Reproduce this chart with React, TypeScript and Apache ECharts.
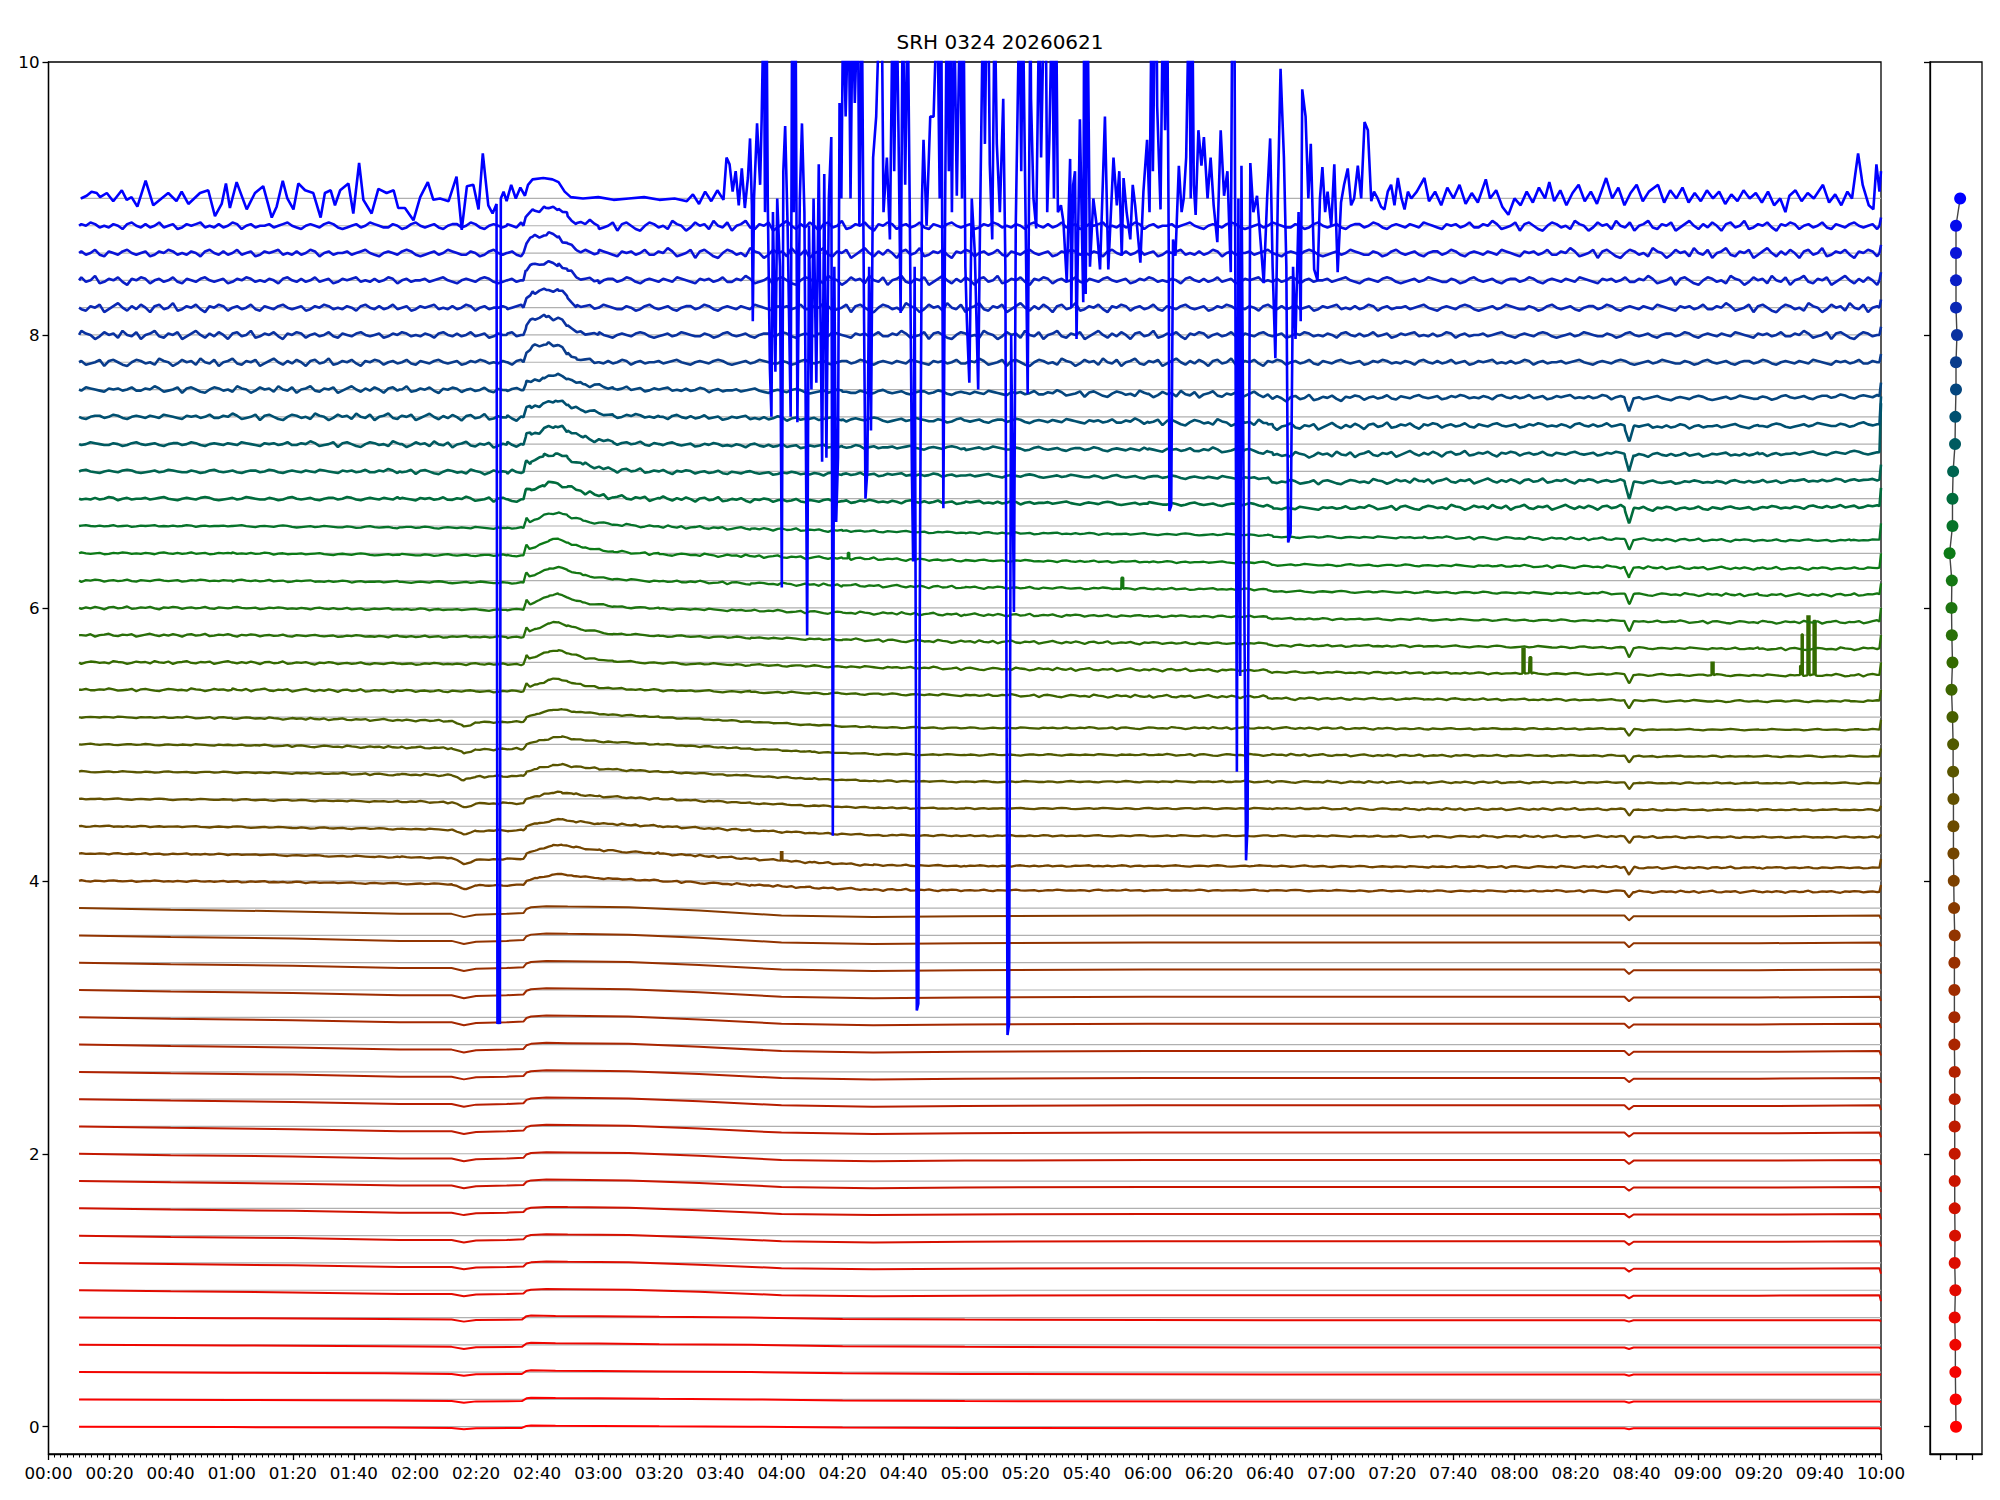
import React, { useEffect, useRef } from "react";
import * as echarts from "echarts";

const TITLE = "SRH 0324 20260621";
const FONT = "DejaVu Sans";
const Y_TICKS = [0, 2, 4, 6, 8, 10];
const PANEL_X_TICKS = [-0.5, 0, 0.5];
const BASELINES = Array.from({ length: 46 }, (_, i) => Math.round(i * 2) / 10);

// ---- top trace (9.0): time (min) / value
const TOP_T = [
  10.6, 12.5, 14.1, 15.8, 16.9, 19.1, 21.2, 24.0, 25.6, 27.2, 29.1, 31.8, 34.3, 37.0, 39.2, 41.9, 43.6, 45.8, 49.6, 52.3,
  54.5, 56.7, 58.1, 59.4, 61.6, 64.9, 67.6, 70.3, 73.1, 74.7, 76.7, 78.2, 80.2, 81.8, 84.0, 86.7, 89.1, 90.5, 92.4, 93.8,
  95.5, 98.2, 99.8, 101.7, 103.1, 105.8, 108.0, 110.7, 113.0, 114.5, 116.7, 119.5, 121.7, 124.2, 126.0, 128.2, 131.0, 133.6, 135.3, 137.0,
  139.1, 140.8, 142.2, 144.0, 145.4, 146.7, 147.0, 147.4, 147.8, 148.1, 149, 150, 151.5, 153, 154.5, 156, 157, 158.5, 162, 165,
  167, 169, 171, 175, 180, 185, 190, 195, 200, 205, 209, 211, 213, 215, 217, 219, 221,
  222, 223, 224, 225, 226, 227, 228, 229, 229.7, 230.3, 230.6, 231, 232, 233, 233.5, 234.2, 234.6, 235.1, 235.5, 236.2,
  236.7, 237.2, 238, 238.6, 239.5, 240.1, 240.6, 241.2, 242, 243, 243.5, 244, 244.6, 245.2, 246, 246.7, 247.5, 248.4, 249, 249.8,
  250.5, 251.4, 252.2, 253.3, 254, 254.7, 255.5, 256.3, 256.8, 257.3, 257.9, 258.5, 259, 259.6, 260.2, 261, 262, 262.6, 263.3, 264,
  265, 265.5, 266.3, 267, 267.5, 268.1, 268.7, 269.3, 270, 271, 272.2, 272.8, 273.4, 274.5, 275.5, 276.4, 276.9, 277.7, 278.3, 279,
  279.7, 280.5, 281.3, 282, 282.7, 283.1, 283.6, 284.3, 284.8, 285.4, 286, 286.5, 287.5, 288.7, 289.8, 291, 291.8, 292.3, 293, 293.6,
  294.1, 294.8, 295.2, 295.8, 296.5, 297.4, 298.5, 299.1, 299.6, 300.2, 300.7, 301.5, 302.3, 303.3, 304.4, 305, 306, 306.6, 307.2, 307.7,
  308.2, 309, 309.8, 310.5, 311.5, 312.6, 313.3, 314, 314.5, 315.2, 316.1, 316.7, 317.9, 318.5, 319, 320, 320.6, 321.5, 321.7, 322.5,
  323.4, 324.4, 325, 326, 326.5, 327, 327.7, 328.6, 329.2, 329.9, 330.5, 331.5, 332.3, 333.4, 334.5, 334.9, 335.5, 336.1, 336.6, 337.7,
  338.8, 339.1, 339.6, 340.2, 341, 342.1, 343.2, 344.3, 345.9, 347, 348.7, 349.8, 350.6, 351.4, 352, 353, 354.2, 355, 355.8, 357.5,
  358.5, 359.7, 360.5, 361.2, 361.6, 362.3, 362.8, 363, 364.1, 364.9, 365.6, 366.3, 366.8, 367.0, 367.6, 368.2, 369, 370.1, 371, 371.7,
  372.5, 373.4, 374, 374.5, 375, 375.6, 376.5, 377.5, 378.3, 379.5, 380.5, 381.5, 382.7, 383.8, 384.9, 386, 387.1, 387.6, 388.3, 388.8,
  389.1, 389.6, 390.2, 390.6, 391.4, 392.1, 392.6, 393.5, 394.5, 395.7, 396.8, 397.9, 399, 400, 400.8, 401.7, 402.5, 403.4, 404.5, 405.3,
  405.9, 406.7, 407.5, 408.3, 409.3, 410.0, 410.5, 411.6, 412.5, 413.3, 414.4, 415.5, 416.3, 417.1, 418, 418.8, 420, 421, 422.1, 423.2,
  424.2, 425.4, 426.5, 427.5, 428.7, 429.8, 430.9, 432, 433.1, 434, 435.2, 436.3, 437.4, 438.5, 439.6, 440.7, 441.8, 443, 444, 445.1,
  446.2, 448, 450.5, 452, 454, 456, 458, 460, 462, 464, 466, 468, 470.6, 472, 474, 476, 478, 480, 482, 484,
  486, 488, 490, 491.4, 493, 495, 497, 499, 501, 503, 505, 507, 510, 512, 514, 516, 518, 520, 522, 524,
  527, 529, 531, 533, 535, 537, 539, 541, 543, 545, 547, 549, 551, 553, 555, 557, 559, 561, 563, 565,
  567, 568.7, 570, 572, 574, 576, 578, 581, 583, 585, 587, 589, 590.5, 592.5, 594, 596, 597.5, 598.5, 599.5, 600,
];
const TOP_V = [
  9.0, 9.02, 9.05, 9.04, 9.01, 9.04, 8.98, 9.06, 8.99, 9.01, 8.94, 9.13, 8.95, 9.0, 9.04, 8.98, 9.05, 8.96, 9.04, 9.06,
  8.87, 8.96, 9.11, 8.93, 9.12, 8.92, 9.04, 9.09, 8.86, 8.94, 9.13, 9.0, 8.92, 9.11, 9.06, 9.04, 8.86, 9.04, 9.06, 8.95,
  9.06, 9.11, 8.89, 9.26, 8.99, 8.89, 9.07, 9.04, 9.06, 8.93, 8.93, 8.84, 9.01, 9.12, 8.99, 9.0, 8.98, 9.16, 8.77, 9.09,
  9.1, 8.92, 9.33, 8.95, 8.89, 8.96, 2.95, 3.0, 2.95, 9.0, 9.05, 8.98, 9.1, 9.0, 9.08, 9.02, 9.1, 9.14, 9.15, 9.14,
  9.12, 9.05, 9.01, 9.0, 9.01, 8.99, 9.0, 9.01, 8.99, 9.0, 8.98, 9.03, 8.96, 9.05, 8.98, 9.06, 8.99,
  9.3, 9.25, 9.05, 9.2, 8.95, 9.22, 8.93, 9.15, 9.44, 8.95, 8.1, 9.0, 9.55, 9.1, 9.58, 10.5, 8.9, 10.5, 9.0, 7.75,
  7.4, 8.9, 7.73, 9.0, 8.5, 6.15, 9.2, 9.53, 8.8, 7.4, 10.5, 8.9, 10.5, 7.36, 9.0, 9.55, 8.9, 5.8, 8.8, 7.6,
  9.0, 7.65, 9.25, 7.07, 9.18, 7.1, 9.0, 9.45, 4.33, 8.5, 6.63, 7.1, 9.7, 9.0, 10.5, 9.6, 10.5, 9.0, 10.5, 9.7,
  10.5, 8.8, 10.5, 8.2, 6.8, 7.0, 8.5, 7.3, 9.3, 9.6, 10.5, 10.5, 8.9, 9.3, 8.7, 10.5, 9.2, 10.5, 9.5, 8.16,
  10.5, 9.1, 10.5, 8.9, 7.0, 6.34, 8.5, 3.05, 3.1, 6.68, 9.0, 9.43, 8.8, 9.6, 9.6, 10.5, 9.0, 10.5, 6.73, 9.0,
  10.5, 9.2, 10.5, 8.9, 10.5, 9.02, 10.5, 9.0, 10.5, 8.5, 8.1, 7.65, 9.0, 8.6, 7.6, 8.8, 10.5, 9.4, 10.5, 10.5,
  9.25, 8.7, 10.5, 9.4, 8.9, 9.73, 8.5, 2.87, 2.95, 8.0, 5.97, 8.8, 10.5, 9.2, 10.5, 8.7, 7.57, 10.5, 9.73, 9.0,
  8.78, 10.5, 9.3, 10.5, 10.5, 8.9, 9.43, 10.5, 9.0, 10.5, 8.9, 8.95, 8.83, 8.39, 9.29, 8.2, 9.1, 9.2, 7.97, 9.58,
  8.24, 10.5, 8.3, 10.5, 8.5, 9.0, 8.8, 8.48, 9.6, 8.48, 9.3, 8.95, 9.2, 8.58, 9.15, 8.9, 8.7, 9.1, 8.95, 8.53,
  9.05, 9.43, 8.9, 10.5, 9.2, 10.5, 10.5, 9.68, 8.92, 10.5, 9.5, 10.5, 8.6, 6.71, 6.75, 8.7, 8.58, 9.24, 8.9, 9.0,
  9.3, 10.5, 9.0, 10.5, 9.1, 8.88, 9.5, 9.24, 9.45, 9.0, 9.3, 8.95, 8.68, 9.5, 9.02, 9.2, 8.46, 10.5, 10.5, 7.0,
  4.8, 9.0, 5.5, 9.24, 6.5, 4.15, 4.4, 9.26, 8.9, 9.02, 8.7, 8.38, 9.0, 9.44, 8.5, 7.83, 9.0, 9.95, 9.3, 8.5,
  6.48, 6.55, 8.5, 7.97, 8.9, 8.1, 9.8, 9.6, 9.0, 9.4, 8.48, 8.4, 9.0, 9.23, 8.9, 9.05, 8.8, 9.25, 8.46, 8.97,
  9.1, 9.22, 8.95, 9.0, 9.24, 9.0, 9.56, 9.5, 8.98, 9.05, 9.0, 8.94, 8.92, 9.05, 9.1, 8.95, 9.15, 9.0, 8.92, 9.05,
  9.0, 9.05, 9.15, 8.98, 9.05, 8.95, 9.08, 9.0, 9.1, 8.96, 9.04, 8.97, 9.14, 9.0, 9.06, 8.94, 8.88, 9.0, 8.95, 9.05,
  8.97, 9.08, 9.0, 9.12, 8.98, 9.06, 8.95, 9.04, 9.1, 8.98, 9.05, 8.96, 9.15, 9.0, 9.08, 8.95, 9.04, 9.1, 8.98, 9.05,
  9.1, 8.97, 9.06, 9.0, 9.08, 8.97, 9.04, 8.98, 9.06, 9.0, 9.05, 8.96, 9.03, 8.98, 9.06, 9.0, 9.04, 8.97, 9.05, 8.95,
  9.0, 8.9, 9.02, 9.06, 8.98, 9.04, 9.0, 9.1, 8.97, 9.03, 8.95, 9.05, 9.0, 9.33, 9.1, 8.95, 8.92, 9.25, 9.05, 9.2,
];

// ---- shape profiles (deviation from baseline)
const PA_T = [10, 60, 110, 132, 136, 140, 155, 156.5, 158, 166, 180, 200, 230, 260, 300, 400, 516, 517.5, 519, 599.5];
const PA_V = [0, -0.005, -0.01, -0.015, -0.03, -0.018, -0.015, 0.01, 0.015, 0.012, 0.01, 0.005, 0, -0.01, -0.015, -0.02, -0.02, -0.03, -0.02, -0.02];
const PB_T = [10, 40, 80, 115, 132, 136, 140, 150, 155.5, 156.5, 158, 163, 170, 190, 213, 240, 270, 300, 360, 400, 450, 516, 517.5, 519, 560, 599.5];
const PB_V = [0, -0.01, -0.02, -0.035, -0.035, -0.055, -0.04, -0.035, -0.03, -0.005, 0.005, 0.012, 0.01, 0.005, -0.015, -0.045, -0.055, -0.05, -0.045, -0.045, -0.045, -0.045, -0.075, -0.05, -0.05, -0.045];
const PC_T = [10, 60, 115, 132, 136, 140, 155.5, 156.5, 160, 165, 168, 172, 180, 200, 230, 250, 270, 300, 400, 450, 516, 517.5, 519, 560, 599.5];
const PC_V = [0, -0.005, -0.02, -0.025, -0.06, -0.035, -0.03, 0.0, 0.02, 0.045, 0.05, 0.035, 0.02, 0.0, -0.03, -0.05, -0.065, -0.07, -0.07, -0.075, -0.075, -0.12, -0.08, -0.08, -0.08];
const PD_T = [10, 60, 115, 150, 155.5, 156.5, 157.5, 160, 164, 167, 170, 175, 185, 200, 230, 260, 300, 360, 399, 401, 450, 516, 517.5, 519, 560, 590, 599.5];
const PD_V = [0, 0, -0.01, -0.015, -0.015, 0.06, 0.03, 0.05, 0.09, 0.1, 0.075, 0.04, 0.01, -0.005, -0.02, -0.035, -0.05, -0.06, -0.065, -0.08, -0.085, -0.095, -0.17, -0.1, -0.105, -0.105, -0.1];
const PE_T = [10, 115, 150, 155.5, 156.5, 158, 162, 166, 170, 175, 185, 200, 260, 300, 360, 399, 401, 450, 516, 517.5, 519, 560, 599.5];
const PE_V = [0, 0, -0.005, -0.005, 0.08, 0.07, 0.11, 0.13, 0.1, 0.05, 0.01, 0, -0.02, -0.03, -0.04, -0.05, -0.08, -0.07, -0.07, -0.2, -0.08, -0.075, -0.06];
const PF_T = [10, 150, 155.5, 156.5, 158.5, 163, 167, 170, 173, 180, 599.5];
const PF_V = [0, 0, 0, 0.07, 0.12, 0.13, 0.125, 0.07, 0.02, 0, 0];

// per trace (0.0 ... 8.8): which profile, its size, wiggle size, value at 10:00
const PROFILE_OF = [0, 0, 0, 0, 0, 1, 1, 1, 1, 1, 1, 1, 1, 1, 1, 1, 1, 1, 1, 1, 2, 2, 2, 2, 2, 2, 2, 3, 3, 3, 3, 3, 3, 3, 4, 4, 4, 4, 4, 5, 5, 5, 5, 5, 5];
const AMP = [0.6, 0.8, 0.9, 1, 1, 0.8, 0.85, 0.9, 0.9, 0.95, 1, 1, 1, 1, 1.05, 1.05, 1.1, 1.1, 1.15, 1.2, 1, 1.3, 1, 1, 1.05, 1.1, 1.15, 0.8, 0.9, 0.95, 1, 1, 1.05, 1, 0.9, 1, 1, 0.9, 0.8, 1, 1, 1, 1, 1, 1];
const WIG = [0, 0, 0, 0, 0, 0, 0, 0, 0, 0, 0, 0, 0, 0, 0, 0, 0, 0, 0, 0, 0.25, 0.25, 0.25, 0.25, 0.25, 0.25, 0.25, 0.35, 0.35, 0.35, 0.35, 0.35, 0.35, 0.35, 0.6, 0.6, 0.7, 0.8, 0.8, 0.9, 1.0, 1.1, 1.1, 1.2, 1.2];
const END_DEV = [-0.02, -0.02, -0.02, -0.03, -0.03, -0.08, -0.08, -0.08, -0.08, -0.08, -0.08, -0.08, -0.08, -0.08, -0.08, -0.08, -0.08, -0.08, -0.08, -0.08, -0.03, -0.04, -0.06, -0.05, -0.04, -0.03, -0.02, 0, 0, 0, 0, -0.02, 0, 0.02, 0.08, 0.05, 0.3, 0.15, 0.05, 0.06, 0.06, 0.06, 0.06, 0.06, 0.06];

// small wiggle (units of 0.01)
const WIGGLE = [
  0, 1, -1, 0, 1, 2, 0, -1, -2, 0, 1, 0, -1, 1, 2, 1, -1, -2, -1, 0,
  1, -1, 0, 2, 1, 0, -1, -1, 1, 0, -2, -1, 1, 2, 0, -1, 0, 1, -1, -2,
  0, 1, 1, -1, 0, 2, 1, -1, -2, 0, 1, 0, -1, 1, 0, -1, 2, 1, 0, -1,
  -2, 1, 0, 1, -1, 0, 2, -1, -1, 1, 0, 3, 1, -2, -1, 0, 2, -3, 1, 2,
  0, -2, -3, 0, 2, 1, -1, 0, -2, 3, 1, 0, -3, -1, 2, 0, 1, -2, 3, 0,
  -1, 2, -3, 0, 1, 3, -1, -2, 1, 0, 2, -3, -1, 1, 3, 0, -2, 1, -1, 2,
  0, -3, 1, 2, -1, 0, 3, -2, -1, 1, 0, 2, -1, -3, 1, 0, 2, 1, -2, 0,
  1, -1, 0, 2, -1, -2, 1, 0, -1, 1, 2, 0, -1, 0, 1, -2, -1, 1, 0, 2,
  1, -1, 0, -1, 1, 0, -2, 1, 2, 0, -1, 1, -1, 0, 2, -1, 0, 1, -2, -1,
  1, 0, 1, 2, -1, 0, -1, 1, -1, 0, 2, 1, -2, 0, 1, -1, 0,
];
const WIGGLE_STEP = 1.5;

// short rectangular pulses: trace index, start, end (min), height
const PULSE_TRACE = [28, 28, 28, 28, 28, 28, 28, 21, 31, 32];
const PULSE_T0 = [482.6, 484.9, 544.5, 573.5, 574.0, 575.9, 577.9, 239.8, 351.3, 261.7];
const PULSE_T1 = [483.3, 485.5, 545.2, 574.0, 574.4, 576.6, 578.6, 240.3, 351.9, 262.2];
const PULSE_H = [0.19, 0.12, 0.1, 0.07, 0.3, 0.44, 0.4, 0.07, 0.08, 0.04];

// right panel dot horizontal positions (0.0 ... 9.0)
const DOT_X = [
  0, -0.01, -0.02, -0.02, -0.04, -0.02, -0.04, -0.03, -0.04, -0.04, -0.04, -0.04, -0.04, -0.04, -0.05, -0.05, -0.05, -0.05, -0.04, -0.06,
  -0.07, -0.08, -0.08, -0.08, -0.09, -0.09, -0.11, -0.14, -0.11, -0.13, -0.14, -0.13, -0.2, -0.11, -0.11, -0.09, -0.03, -0.02, 0, 0,
  0.03, 0, 0, 0, 0, 0.13,
];

// colour anchors (style)
const COLOR_ANCHORS: [number, string][] = [
  [0, "#ff0000"], [1, "#e20a00"], [2, "#c41800"], [3, "#a42800"], [3.6, "#923400"], [4, "#7c4000"],
  [4.6, "#625000"], [5, "#505a00"], [5.6, "#346a00"], [6, "#1e7410"], [6.4, "#0c7a16"], [6.8, "#006c3c"],
  [7.0, "#006450"], [7.4, "#005070"], [7.8, "#0a3c8c"], [8.2, "#0a28b4"], [8.6, "#0a14d8"], [9, "#0000ff"],
];

const PROFILES: [number[], number[]][] = [[PA_T, PA_V], [PB_T, PB_V], [PC_T, PC_V], [PD_T, PD_V], [PE_T, PE_V], [PF_T, PF_V]];

function hexToRgb(h: string) {
  return [parseInt(h.slice(1, 3), 16), parseInt(h.slice(3, 5), 16), parseInt(h.slice(5, 7), 16)];
}
function colorAt(v: number) {
  for (let k = 0; k < COLOR_ANCHORS.length - 1; k++) {
    const [v0, c0] = COLOR_ANCHORS[k];
    const [v1, c1] = COLOR_ANCHORS[k + 1];
    if (v >= v0 - 1e-9 && v <= v1 + 1e-9) {
      const f = (v - v0) / (v1 - v0);
      const a = hexToRgb(c0), b = hexToRgb(c1);
      const m = a.map((x, j) => Math.round(x + (b[j] - x) * f));
      return "#" + m.map((x) => x.toString(16).padStart(2, "0")).join("");
    }
  }
  return "#0000ff";
}
function lerp(T: number[], V: number[], t: number) {
  if (t <= T[0]) return V[0];
  for (let k = 0; k < T.length - 1; k++) {
    if (t >= T[k] && t <= T[k + 1]) return V[k] + ((V[k + 1] - V[k]) * (t - T[k])) / (T[k + 1] - T[k]);
  }
  return V[V.length - 1];
}
const fmtTime = (v: number) =>
  `${String(Math.floor(v / 60)).padStart(2, "0")}:${String(Math.round(v % 60)).padStart(2, "0")}`;

function buildTrace(i: number) {
  const b = BASELINES[i];
  const [PT, PV] = PROFILES[PROFILE_OF[i]];
  const amp = AMP[i];
  const pts: [number, number][] = [];
  const add = (t: number, extra: number) => pts.push([t, b + amp * lerp(PT, PV, t) + extra]);
  PT.forEach((t) => add(t, 0));
  if (WIG[i] > 0) {
    const off = (i * 17) % WIGGLE.length;
    for (let k = 0; ; k++) {
      const t = 10.75 + WIGGLE_STEP * k;
      if (t >= 599) break;
      add(t, WIG[i] * 0.01 * WIGGLE[(k + off) % WIGGLE.length]);
    }
  }
  PULSE_TRACE.forEach((tr, k) => {
    if (tr !== i) return;
    add(PULSE_T0[k], 0);
    add(PULSE_T0[k] + 0.01, PULSE_H[k]);
    add(PULSE_T1[k], PULSE_H[k]);
    add(PULSE_T1[k] + 0.01, 0);
  });
  pts.push([600, b + END_DEV[i]]);
  pts.sort((p, q) => p[0] - q[0]);
  return pts;
}

export default function App() {
  const ref = useRef<HTMLDivElement>(null);
  useEffect(() => {
    if (!ref.current) return;
    const chart = echarts.init(ref.current, undefined, { renderer: "svg" });
    const axisLine = { show: true, onZero: false, lineStyle: { color: "#000", width: 1.3 } };
    const tickStyle = { color: "#000", width: 1.3 };
    const series: any[] = [];
    BASELINES.forEach((b) => {
      series.push({
        type: "line", xAxisIndex: 0, yAxisIndex: 0, data: [[10.4, b], [600, b]], showSymbol: false, silent: true,
        lineStyle: { color: "#b0b0b0", width: 1.2 }, z: 1,
      });
    });
    for (let i = 0; i < 45; i++) {
      series.push({
        type: "line", xAxisIndex: 0, yAxisIndex: 0, data: buildTrace(i), showSymbol: false, silent: true,
        lineStyle: { color: colorAt(BASELINES[i]), width: i < 20 ? 2 : i < 34 ? 2.3 : 2.6 }, z: 2, clip: true,
      });
    }
    series.push({
      type: "line", xAxisIndex: 0, yAxisIndex: 0, data: TOP_T.map((t, k) => [t, TOP_V[k]]), showSymbol: false,
      silent: true, lineStyle: { color: colorAt(9), width: 2.6 }, z: 3, clip: true,
    });
    series.push({
      type: "line", xAxisIndex: 1, yAxisIndex: 1, symbol: "circle", symbolSize: 12, showSymbol: true, silent: true,
      data: BASELINES.map((y, i) => ({ value: [DOT_X[i], y], itemStyle: { color: colorAt(y) } })),
      lineStyle: { color: "#444", width: 1.4 }, z: 2,
    });
    chart.setOption({
      animation: false,
      backgroundColor: "#ffffff",
      title: {
        text: TITLE, left: "center", top: 27,
        textStyle: { fontFamily: FONT, fontSize: 20, fontWeight: "normal", color: "#000" },
      },
      grid: [
        { left: 48.5, right: 119, top: 62, bottom: 46, show: true, borderColor: "#000", borderWidth: 1.3 },
        { left: 1930, width: 52, top: 62, bottom: 46, show: true, borderColor: "#000", borderWidth: 1.3 },
      ],
      xAxis: [
        {
          type: "value", gridIndex: 0, min: 0, max: 600, interval: 20, axisLine,
          axisTick: { show: true, length: 6, lineStyle: tickStyle },
          minorTick: { show: true, splitNumber: 10, length: 3.5, lineStyle: { color: "#000", width: 1 } },
          axisLabel: { formatter: fmtTime, fontFamily: FONT, fontSize: 16.7, color: "#000", margin: 10 },
          splitLine: { show: false }, minorSplitLine: { show: false },
        },
        {
          type: "value", gridIndex: 1, min: -0.8125, max: 0.8125, axisLine,
          axisTick: { show: true, length: 6, lineStyle: tickStyle, customValues: PANEL_X_TICKS },
          axisLabel: { show: false }, splitLine: { show: false },
        },
      ],
      yAxis: [
        {
          type: "value", gridIndex: 0, min: -0.2, max: 10, axisLine,
          axisTick: { show: true, length: 6, lineStyle: tickStyle, customValues: Y_TICKS },
          axisLabel: { customValues: Y_TICKS, fontFamily: FONT, fontSize: 16.7, color: "#000", margin: 9 },
          splitLine: { show: false },
        },
        {
          type: "value", gridIndex: 1, min: -0.2, max: 10, axisLine,
          axisTick: { show: true, length: 6, lineStyle: tickStyle, customValues: Y_TICKS },
          axisLabel: { show: false }, splitLine: { show: false },
        },
      ],
      series,
    });
    return () => chart.dispose();
  }, []);
  return (
    <div
      ref={ref}
      style={{ position: "fixed", left: 0, top: 0, width: 2000, height: 1500, background: "#fff" }}
    />
  );
}
